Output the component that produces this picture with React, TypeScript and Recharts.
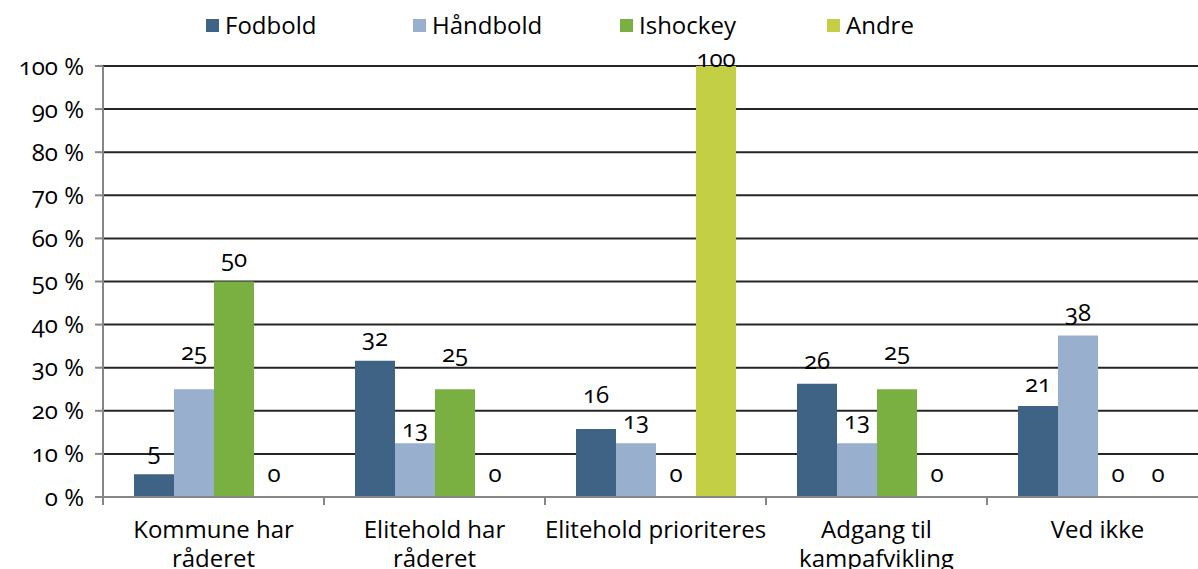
import React from 'react';
import { BarChart, Bar, XAxis, YAxis, CartesianGrid, LabelList } from 'recharts';

const categories = [
  'Kommune har råderet',
  'Elitehold har råderet',
  'Elitehold prioriteres',
  'Adgang til kampafvikling',
  'Ved ikke',
];
const fodbold = [5.3, 31.6, 15.8, 26.3, 21.1];
const haandbold = [25, 12.5, 12.5, 12.5, 37.5];
const ishockey = [50, 25, 0, 25, 0];
const andre = [0, 0, 100, 0, 0];
const yTicks = [0, 10, 20, 30, 40, 50, 60, 70, 80, 90, 100];

const series = [
  { key: 'fodbold', name: 'Fodbold', values: fodbold, color: '#3F6384' },
  { key: 'haandbold', name: 'Håndbold', values: haandbold, color: '#98AFCD' },
  { key: 'ishockey', name: 'Ishockey', values: ishockey, color: '#7AAF42' },
  { key: 'andre', name: 'Andre', values: andre, color: '#C3CF44' },
];

// extra lift (px) for labels that were hand-moved in the original
const labelNudge: Record<string, number[]> = {
  fodbold: [0, 0, 11, 0, 0],
  haandbold: [15, -8, 0, 0, 0],
  ishockey: [0, 13, 0, 15, 0],
  andre: [0, 0, -15, 0, 0],
};

const data = categories.map((name, i) => {
  const row: Record<string, string | number> = { name };
  series.forEach(s => { row[s.key] = s.values[i]; });
  return row;
});

const FONT = '"Open Sans", sans-serif';
const FS = 24;
const CHART_W = 1208;
const CHART_H = 569;
const PLOT_LEFT = 103;
const BAND = (CHART_W - PLOT_LEFT) / categories.length;
const numStyle = { fontVariantNumeric: 'oldstyle-nums' } as React.CSSProperties;

let measureCtx: CanvasRenderingContext2D | null = null;
function wrapWords(text: string, maxW: number): string[] {
  if (!measureCtx) measureCtx = document.createElement('canvas').getContext('2d');
  const ctx = measureCtx!;
  ctx.font = `${FS}px "Open Sans"`;
  const lines: string[] = [];
  let cur = '';
  text.split(' ').forEach(w => {
    const test = cur ? cur + ' ' + w : w;
    if (cur && ctx.measureText(test).width > maxW) {
      lines.push(cur);
      cur = w;
    } else {
      cur = test;
    }
  });
  if (cur) lines.push(cur);
  return lines;
}

function CategoryTick(props: any) {
  const { x, y, payload } = props;
  const lines = wrapWords(String(payload.value), BAND + 3);
  return (
    <g>
      <line x1={x - BAND / 2} y1={y} x2={x - BAND / 2} y2={y + 8} stroke="#868686" strokeWidth={2} />
      <text textAnchor="middle" dominantBaseline="central" fontFamily={FONT} fontSize={FS} fill="#000">
        {lines.map((l, i) => (
          <tspan key={i} x={x} y={y + 31 + i * 29}>{l}</tspan>
        ))}
      </text>
    </g>
  );
}

function valueLabel(key: string) {
  return (props: any) => {
    const { x, y, width, value } = props;
    const idx = Math.floor((Number(x) + Number(width) / 2 - PLOT_LEFT) / BAND);
    const lift = 24 + (labelNudge[key]?.[idx] ?? 0);
    return (
      <text
        x={Number(x) + Number(width) / 2}
        y={Number(y) - lift}
        textAnchor="middle"
        dominantBaseline="central"
        fontFamily={FONT}
        fontSize={FS}
        fill="#000"
        style={numStyle}
      >
        {Math.round(Number(value))}
      </text>
    );
  };
}

export default function App() {
  return (
    <div style={{ position: 'absolute', left: 0, top: 0, width: 1198, height: 569, overflow: 'hidden', background: '#fff' }}>
      <div style={{ position: 'absolute', top: 8, left: 206, display: 'flex', fontFamily: FONT, fontSize: FS, color: '#000', lineHeight: '34px' }}>
        {series.map(s => (
          <div key={s.key} style={{ width: 207, display: 'flex', alignItems: 'center' }}>
            <span style={{ display: 'inline-block', width: 13, height: 13, background: s.color, marginRight: 6 }} />
            <span>{s.name}</span>
          </div>
        ))}
      </div>
      <BarChart
        width={CHART_W}
        height={CHART_H}
        data={data}
        margin={{ top: 66, right: 0, bottom: 0, left: 0 }}
        barSize={40}
        barGap={0}
      >
        <CartesianGrid vertical={false} stroke="#262626" strokeWidth={2} />
        <XAxis
          dataKey="name"
          height={72}
          axisLine={{ stroke: '#868686', strokeWidth: 2 }}
          tickLine={false}
          tickSize={0}
          tickMargin={0}
          tick={<CategoryTick />}
          interval={0}
        />
        <YAxis
          width={PLOT_LEFT}
          domain={[0, 100]}
          ticks={yTicks}
          tickFormatter={(v) => `${v} %`}
          axisLine={{ stroke: '#868686', strokeWidth: 2 }}
          tickLine={{ stroke: '#868686', strokeWidth: 2 }}
          tickSize={8}
          tickMargin={11}
          tick={{ fontFamily: FONT, fontSize: FS, fill: '#000', style: numStyle }}
        />
        {series.map(s => (
          <Bar
            key={s.key}
            dataKey={s.key}
            name={s.name}
            fill={s.color}
            minPointSize={(v: any) => (Number(v) === 0 ? 0.01 : 0)}
            isAnimationActive={false}
          >
            <LabelList dataKey={s.key} content={valueLabel(s.key)} />
          </Bar>
        ))}
      </BarChart>
    </div>
  );
}
